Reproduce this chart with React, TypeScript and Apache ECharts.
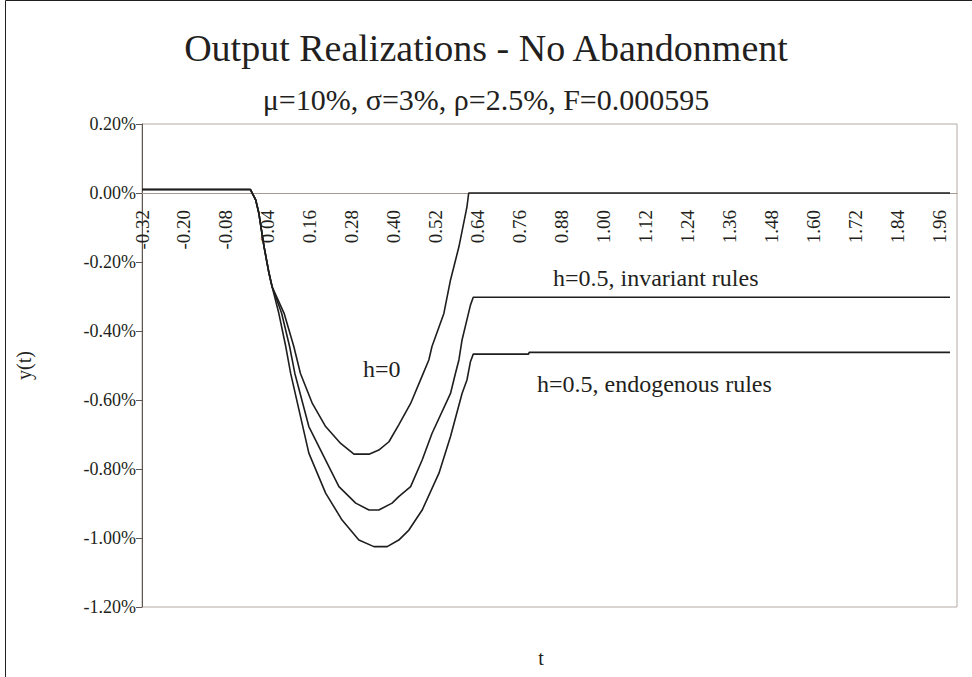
import { useEffect, useRef } from "react";
import * as echarts from "echarts";

const titleText = "Output Realizations - No Abandonment";
const subtitleText = "μ=10%, σ=3%, ρ=2.5%, F=0.000595";
const xAxisTitle = "t";
const yAxisTitle = "y(t)";

// x axis: t from -0.32, labels every 0.12
const xMin = -0.32;
const xMax = 2.01;
const xStep = 0.12;
// y axis in percent
const yMin = -1.2;
const yMax = 0.2;
const yStep = 0.2;

// h=0
const tH0 = [-0.32, -0.01, 0.005, 0.014, 0.029, 0.043, 0.052, 0.086, 0.114, 0.133, 0.167, 0.205, 0.248, 0.286, 0.329, 0.357, 0.386, 0.414, 0.448, 0.481, 0.5, 0.509, 0.543, 0.562, 0.586, 0.609, 0.614, 1.99];
const yH0 = [0.01, 0.01, -0.02, -0.058, -0.156, -0.232, -0.272, -0.348, -0.445, -0.523, -0.61, -0.677, -0.726, -0.757, -0.757, -0.745, -0.721, -0.672, -0.61, -0.53, -0.484, -0.445, -0.349, -0.252, -0.156, -0.04, 0, 0];

// h=0.5, invariant rules
const tInv = [-0.32, -0.01, 0.005, 0.014, 0.029, 0.043, 0.052, 0.079, 0.102, 0.117, 0.157, 0.205, 0.243, 0.291, 0.329, 0.357, 0.395, 0.414, 0.448, 0.481, 0.509, 0.562, 0.576, 0.586, 0.595, 0.619, 0.627, 1.99];
const yInv = [0.01, 0.01, -0.02, -0.058, -0.156, -0.232, -0.272, -0.348, -0.445, -0.523, -0.677, -0.774, -0.851, -0.899, -0.919, -0.919, -0.899, -0.88, -0.851, -0.774, -0.697, -0.581, -0.523, -0.484, -0.426, -0.325, -0.302, -0.302];

// h=0.5, endogenous rules
const tEndo = [-0.32, -0.01, 0.005, 0.014, 0.029, 0.043, 0.052, 0.071, 0.091, 0.105, 0.157, 0.205, 0.252, 0.3, 0.343, 0.381, 0.414, 0.443, 0.481, 0.529, 0.562, 0.595, 0.609, 0.619, 0.627, 0.785, 0.787, 1.99];
const yEndo = [0.01, 0.01, -0.02, -0.058, -0.156, -0.232, -0.272, -0.348, -0.445, -0.523, -0.754, -0.87, -0.948, -1.006, -1.025, -1.025, -1.006, -0.977, -0.919, -0.812, -0.706, -0.581, -0.542, -0.489, -0.467, -0.467, -0.462, -0.462];

const seriesNames = ["h=0", "h=0.5, invariant rules", "h=0.5, endogenous rules"];

const FONT = "'Liberation Serif', 'Times New Roman', serif";

const W = 972;
const H = 677;
const GRID = { left: 142, right: 15, top: 124, bottom: 70 };

function pairs(t: number[], y: number[]) {
  return t.map((v, i) => [v, y[i]]);
}

export default function App() {
  const ref = useRef<HTMLDivElement>(null);
  useEffect(() => {
    document.body.style.margin = "0";
    const chart = echarts.init(ref.current!, null, { renderer: "svg" });
    const lineStyle = { color: "#1e1e1e", width: 1.6 };
    const mk = (name: string, data: number[][]) => ({
      name,
      type: "line",
      data,
      showSymbol: false,
      symbol: "none",
      lineStyle,
      silent: true,
    });
    // the category line crosses the value axis at 0 (as in the source chart)
    const gridH = H - GRID.top - GRID.bottom;
    const zeroOffset = -(gridH * (0 - yMin)) / (yMax - yMin);
    chart.setOption({
      animation: false,
      backgroundColor: "#ffffff",
      title: [
        {
          text: titleText,
          left: "center",
          top: 24,
          padding: [5, 5, 5, 23],
          textStyle: { fontFamily: FONT, fontSize: 38, fontWeight: "normal", color: "#231f20" },
        },
        {
          text: subtitleText,
          left: "center",
          top: 79,
          padding: [5, 5, 5, 23],
          textStyle: { fontFamily: FONT, fontSize: 30, fontWeight: "normal", color: "#231f20" },
        },
      ],
      grid: {
        ...GRID,
        show: true,
        borderColor: "#b3aaa3",
        borderWidth: 1,
        backgroundColor: "transparent",
      },
      xAxis: {
        type: "value",
        min: xMin,
        max: xMax,
        interval: xStep,
        offset: zeroOffset,
        axisLine: { onZero: false, lineStyle: { color: "#a39a93", width: 1 } },
        axisTick: { show: false },
        splitLine: { show: false },
        axisLabel: {
          rotate: 90,
          margin: 17,
          fontFamily: FONT,
          fontSize: 19,
          color: "#231f20",
          showMaxLabel: false,
          formatter: (v: number) => v.toFixed(2),
        },
      },
      yAxis: {
        type: "value",
        min: yMin,
        max: yMax,
        interval: yStep,
        name: yAxisTitle,
        nameLocation: "middle",
        nameGap: 108,
        nameTextStyle: { fontFamily: FONT, fontSize: 20, color: "#231f20" },
        axisLine: { show: true, onZero: false, lineStyle: { color: "#5e5753", width: 1 } },
        axisTick: { show: true, inside: false, length: 6, lineStyle: { color: "#5e5753" } },
        splitLine: { show: false },
        axisLabel: {
          margin: 6,
          fontFamily: FONT,
          fontSize: 18,
          color: "#231f20",
          formatter: (v: number) => {
            const s = Math.abs(v) < 1e-9 ? "0.00" : v.toFixed(2);
            return s + "%";
          },
        },
      },
      graphic: [
        {
          type: "rect",
          silent: true,
          shape: { x: 5.5, y: 0.5, width: 1200, height: 1200 },
          style: { fill: "none", stroke: "#231f20", lineWidth: 1 },
        },
        {
          type: "text",
          x: 541,
          y: 648,
          style: { text: xAxisTitle, font: `20px ${FONT}`, fill: "#231f20", textAlign: "center" },
        },
        {
          type: "text",
          x: 363,
          y: 357,
          style: { text: seriesNames[0], font: `24px ${FONT}`, fill: "#231f20" },
        },
        {
          type: "text",
          x: 553,
          y: 266,
          style: { text: seriesNames[1], font: `24px ${FONT}`, fill: "#231f20" },
        },
        {
          type: "text",
          x: 537,
          y: 372,
          style: { text: seriesNames[2], font: `24px ${FONT}`, fill: "#231f20" },
        },
      ],
      series: [
        mk(seriesNames[0], pairs(tH0, yH0)),
        mk(seriesNames[1], pairs(tInv, yInv)),
        mk(seriesNames[2], pairs(tEndo, yEndo)),
      ],
    });
    return () => chart.dispose();
  }, []);
  return (
    <div
      ref={ref}
      style={{ position: "absolute", left: 0, top: 0, width: W, height: H }}
    />
  );
}
